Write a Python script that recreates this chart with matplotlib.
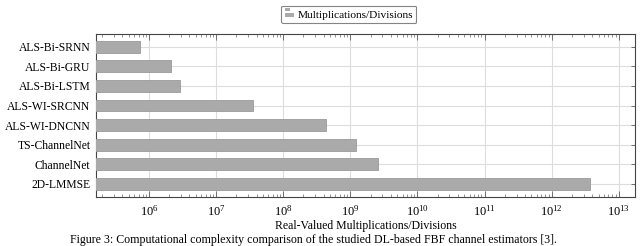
import numpy as np
import matplotlib
matplotlib.use("Agg")
import matplotlib.pyplot as plt
from matplotlib.ticker import LogLocator, NullFormatter
from matplotlib.legend_handler import HandlerBase
from matplotlib.patches import Rectangle

# data (log scale)
methods = ["ALS-Bi-SRNN", "ALS-Bi-GRU", "ALS-Bi-LSTM", "ALS-WI-SRCNN",
           "ALS-WI-DNCNN", "TS-ChannelNet", "ChannelNet", "2D-LMMSE"]
mult_div = [7.4e5, 2.1e6, 2.9e6, 3.6e7, 4.3e8, 1.2e9, 2.6e9, 3.7e12]

xlabel = "Real-Valued Multiplications/Divisions"
legend_label = "Multiplications/Divisions"
caption = "Figure 3: Computational complexity comparison of the studied DL-based FBF channel estimators [3]."


# pgfplots style xbar legend icon: two short stacked bars
class TwoBars(HandlerBase):
    def create_artists(self, legend, orig, xd, yd, w, h, fontsize, trans):
        fc = orig.get_facecolor()
        r1 = Rectangle((xd, yd + h * 0.58), w * 0.6, h * 0.38, facecolor=fc,
                       edgecolor="none", transform=trans)
        r2 = Rectangle((xd, yd + h * 0.02), w, h * 0.38, facecolor=fc,
                       edgecolor="none", transform=trans)
        return [r1, r2]


plt.rcParams['font.family'] = ['Liberation Serif', 'DejaVu Serif']
plt.rcParams['mathtext.fontset'] = 'stix'

fig = plt.figure(figsize=(6.4, 2.46), dpi=100)
ax = fig.add_axes([0.15, 0.2004, 0.842, 0.6614])

ypos = np.arange(len(methods))
bars = ax.barh(ypos, mult_div, height=0.6, color="#aaaaaa", edgecolor="#9a9a9a",
               linewidth=0.6, label=legend_label, zorder=3)

ax.set_xscale("log")
ax.set_xlim(10**5.21, 10**13.24)
ax.set_ylim(len(methods) - 1 + 0.65, -0.65)
ax.set_yticks(ypos)
ax.set_yticklabels(methods, fontsize=8.4)

ax.xaxis.set_major_locator(LogLocator(base=10, numticks=20))
ax.xaxis.set_minor_locator(LogLocator(base=10, subs=np.arange(2, 10), numticks=20))
ax.xaxis.set_minor_formatter(NullFormatter())
ax.tick_params(axis='x', which='major', direction='in', top=True, length=4,
               width=0.5, color="#444444", labelsize=9, pad=5)
ax.tick_params(axis='x', which='minor', direction='in', top=True, length=2,
               width=0.4, color="#444444")
ax.tick_params(axis='y', which='major', direction='in', right=True, length=3,
               width=0.5, color="#444444", pad=4)

ax.grid(True, which='major', axis='both', color="#dddddd", linewidth=0.8, zorder=0)
ax.set_axisbelow(True)
for sp in ax.spines.values():
    sp.set_color("#444444")
    sp.set_linewidth(0.8)

ax.set_xlabel(xlabel, fontsize=8.5, labelpad=1)

leg = fig.legend(handles=[bars[0]], labels=[legend_label], loc='upper center',
                 bbox_to_anchor=(0.545, 1.0), fontsize=8.2, frameon=True,
                 fancybox=True, handlelength=0.8, handleheight=0.9,
                 handletextpad=0.3, borderpad=0.3,
                 handler_map={type(bars[0]): TwoBars()})
leg.get_frame().set_edgecolor("#666666")
leg.get_frame().set_linewidth(0.8)
leg.get_frame().set_boxstyle("round", pad=0, rounding_size=0.15)

fig.text(0.49, 0.0, caption, ha='center', va='bottom', fontsize=8.6)

fig.savefig("out.png", dpi=100)
